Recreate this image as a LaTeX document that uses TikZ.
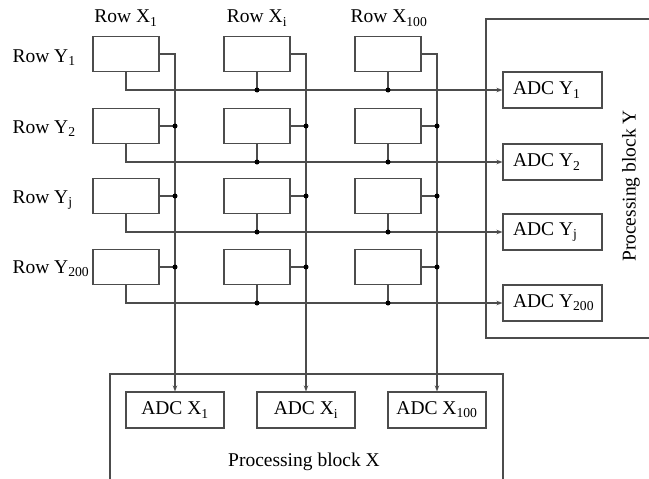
\documentclass[tikz,border=0pt]{standalone}
\usepackage{fontspec}
\setmainfont{Liberation Serif}
\usetikzlibrary{arrows.meta}
\newcommand{\leftbox}[1]{\makebox[79pt][l]{#1}}
\begin{document}
\begin{tikzpicture}[x=1pt,y=-1pt,
  wire/.style={draw=black!70,line width=1.1pt},
  cell/.style={wire,minimum width=66pt,minimum height=35pt,inner sep=0pt},
  adcx/.style={wire,minimum width=98pt,minimum height=36pt,inner sep=0pt},
  adcy/.style={wire,minimum height=36pt,inner xsep=10pt,inner ysep=0pt},
  jdot/.style={circle,fill=black,inner sep=0pt,minimum size=5pt},
  arr/.style={wire,-{Stealth[length=6pt,width=4.5pt]}},
  every node/.style={font=\fontsize{19.5}{22}\selectfont}
]
\useasboundingbox (0,0) rectangle (649,479);

% processing blocks
\draw[wire] (649,19) -- (486,19) -- (486,338) -- (649,338);
\draw[wire] (110,479) -- (110,374) -- (503,374) -- (503,479);
\node[rotate=90] (pby) at (631,186) {Processing block Y};
\node (pbx) at (304,462) {Processing block X};

% ADC boxes
\node[adcx] (ax1) at (175,410) {ADC X\textsubscript{1}};
\node[adcx] (ax2) at (306,410) {ADC X\textsubscript{i}};
\node[adcx] (ax3) at (437,410) {ADC X\textsubscript{100}};
\node[adcy] (ay1) at (552.5,90) {\leftbox{ADC Y\textsubscript{1}}};
\node[adcy] (ay2) at (552.5,162) {\leftbox{ADC Y\textsubscript{2}}};
\node[adcy] (ay3) at (552.5,232) {\leftbox{ADC Y\textsubscript{j}}};
\node[adcy] (ay4) at (552.5,303) {\leftbox{ADC Y\textsubscript{200}}};

% labels
\node[anchor=base] (lx1) at (126,23) {Row X\textsubscript{1}};
\node[anchor=base] (lx2) at (257,23) {Row X\textsubscript{i}};
\node[anchor=base] (lx3) at (389,23) {Row X\textsubscript{100}};
\node[anchor=base west] (ly1) at (9,62) {Row Y\textsubscript{1}};
\node[anchor=base west] (ly2) at (9,133) {Row Y\textsubscript{2}};
\node[anchor=base west] (ly3) at (9,203) {Row Y\textsubscript{j}};
\node[anchor=base west] (ly4) at (9,273) {Row Y\textsubscript{200}};

% cells
\foreach \c/\x in {1/126,2/257,3/388}{
  \foreach \r/\y in {1/54,2/126,3/196,4/267}{
    \node[cell] (c\c\r) at (\x,\y) {};
  }
}

% vertical (column) buses
\foreach \c in {1,2,3}{
  \draw[arr] (c\c1.east) -| (ax\c.north);
  \foreach \r in {2,3,4}{
    \draw[wire] (c\c\r.east) -- (c\c\r.east -| ax\c.north) node[jdot]{};
  }
}

% horizontal (row) buses
\foreach \r in {1,2,3,4}{
  \draw[arr] (c1\r.south) |- (ay\r.west);
  \foreach \c in {2,3}{
    \draw[wire] (c\c\r.south) -- (c\c\r.south |- ay\r.west) node[jdot]{};
  }
}
\end{tikzpicture}
\end{document}
